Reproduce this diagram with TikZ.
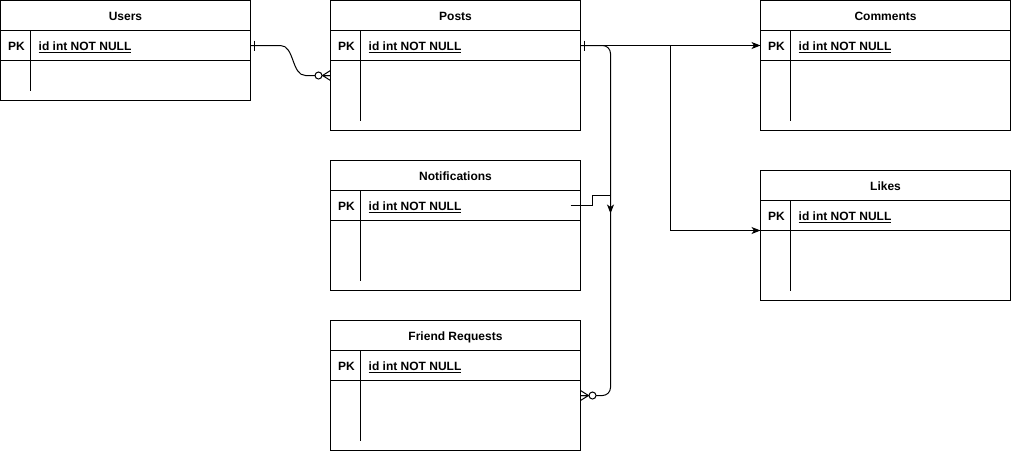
\documentclass[tikz,border=0pt]{standalone}
\usepackage{fontspec}
\setmainfont{Liberation Sans}
\usetikzlibrary{positioning, arrows.meta}
\tikzset{
    tbltitle/.style={rectangle, draw=black, line width=1pt, fill=white, minimum width=250pt, minimum height=30pt, outer sep=0pt, inner sep=0pt, text height=10.6pt, text depth=0pt, font=\fontsize{12}{14}\selectfont\bfseries},
    tblrow/.style={rectangle, draw=black, line width=1pt, fill=white, minimum width=250pt, minimum height=30pt, outer sep=0pt, inner sep=0pt},
    tblbody/.style={rectangle, draw=black, line width=1pt, fill=white, minimum width=250pt, outer sep=0pt, inner sep=0pt},
    field/.style={inner sep=0pt, text height=10.6pt, text depth=0pt, font=\fontsize{12}{14}\selectfont\bfseries},
    divider/.style={line width=1pt},
    link/.style={line width=1pt},
    arrow/.style={-{Stealth[length=9pt, width=7pt, inset=2.5pt]}, line width=1pt},
    erone/.pic={\draw[line width=1pt] (4,-5) -- (4,5);},
    erzeromany/.pic={\draw[line width=1pt] (-8,0) -- (0,-5) (-8,0) -- (0,5) (-8,0) -- (0,0);
        \draw[line width=1pt, fill=white] (-12,0) circle (3.5);}
}

\begin{document}
\begin{tikzpicture}[x=1pt, y=-1pt]
    \useasboundingbox (0,0) rectangle (1011,451);

    % Tables
    \foreach \nm/\px/\py/\bh/\ttl in {users/0.5/0.5/40/Users, posts/330.5/0.5/70/Posts,
        comments/760.5/0.5/70/Comments, notif/330.5/160.5/70/Notifications,
        likes/760.5/170.5/70/Likes, friends/330.5/320.5/70/Friend Requests} {
        \node[tbltitle, anchor=north west] (\nm) at (\px,\py) {\ttl};
        \node[tblrow, below=0pt of \nm] (\nm-pk) {};
        \node[tblbody, minimum height=\bh pt, below=0pt of \nm-pk] (\nm-body) {};
        \node[field] (\nm-pklabel) at ([xshift=16pt]\nm-pk.west) {PK};
        \node[field, anchor=west] (\nm-key) at ([xshift=38pt]\nm-pk.west) {\underline{id int NOT NULL}};
        \draw[divider] ([xshift=30pt]\nm-pk.north west) -- ([xshift=30pt, yshift=10pt]\nm-body.south west);
    }

    % Users -> Posts
    \coordinate (posts-in) at ([yshift=-30pt]posts-pk.west);
    \draw[link] (users-pk.east) -- ++(30,0) .. controls +(14,0) and +(-14,0) .. ([xshift=-25pt]posts-in) -- (posts-in);
    \pic at (users-pk.east) {erone};
    \pic at (posts-in) {erzeromany};

    % Posts -> Comments, Likes
    \draw[arrow] (posts-pk.east) -- (comments-pk.west);
    \draw[arrow] (posts-pk.east) -- ++(90,0) |- (likes-pk.south west);
    \pic at (posts-pk.east) {erone};

    % Posts -> Friend Requests
    \coordinate (friends-in) at ([yshift=-15pt]friends-pk.south east);
    \draw[link, rounded corners=8pt] (posts-pk.east) -- ++(30,0) |- (friends-in);
    \pic[rotate=180] at (friends-in) {erzeromany};

    % Notifications
    \coordinate (notif-in) at ([xshift=30pt, yshift=-8pt]notif-pk.east);
    \draw[arrow] ([xshift=-10pt]notif-pk.east) -- ++(22,0) -- ++(0,-10) -| (notif-in);
\end{tikzpicture}
\end{document}
